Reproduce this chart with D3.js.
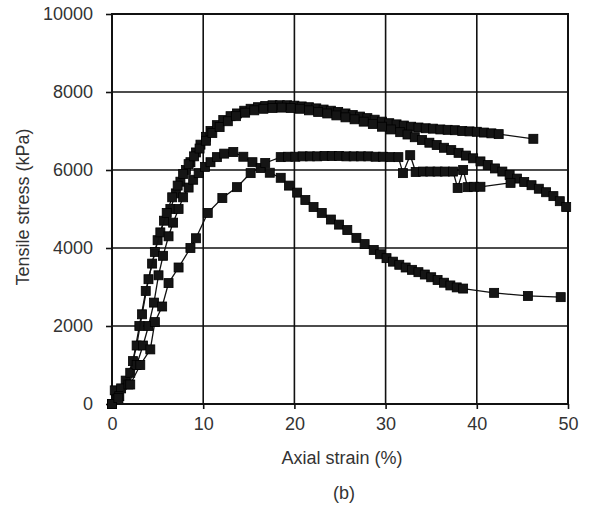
<!DOCTYPE html>
<html>
<head>
<meta charset="utf-8">
<script src="https://cdn.jsdelivr.net/npm/d3@7"></script>
<style>
  body { margin: 0; background: #fff; }
  text { font-family: "Liberation Sans", Arial, sans-serif; fill: #333; }
</style>
</head>
<body>
<div id="viz"></div>
<script>
// tick labels
const xTicks = [0, 10, 20, 30, 40, 50];
const yTicks = [0, 2000, 4000, 6000, 8000, 10000];

// series 1: upper curve, ends near 46 %
const s1Strain = [0, 0.5, 1.5, 2.3, 3, 3.7, 4.4, 5, 5.7, 6.4, 7, 7.5, 8.1, 8.6, 9.2, 9.7, 10.3, 10.8, 11.5, 12.2, 13, 13.7, 14.5, 15.2, 16, 16.8, 17.6, 18.4, 19.2, 20, 20.8, 21.6, 22.4, 23.2, 24, 24.8, 25.6, 26.4, 27.2, 28, 28.8, 29.6, 30.4, 31.2, 32, 32.8, 33.6, 34.4, 35.2, 36, 36.8, 37.6, 38.4, 39.2, 40, 40.8, 41.6, 42.4, 46.2];
const s1Stress = [0, 250, 600, 1100, 2000, 2900, 3600, 4200, 4700, 5000, 5400, 5700, 6000, 6200, 6450, 6650, 6850, 7000, 7150, 7280, 7380, 7450, 7520, 7570, 7610, 7640, 7660, 7660, 7660, 7650, 7630, 7610, 7580, 7550, 7520, 7490, 7450, 7410, 7370, 7330, 7290, 7240, 7200, 7170, 7140, 7110, 7090, 7070, 7060, 7040, 7030, 7020, 7000, 6990, 6980, 6960, 6940, 6920, 6800];

// series 2: upper curve, falls to ~5000 at 50 %
const s2Strain = [0, 0.3, 1, 2, 2.7, 3.3, 4, 4.7, 5.3, 6, 6.6, 7.2, 7.8, 8.4, 9, 9.6, 10.3, 11, 11.8, 12.7, 13.6, 14.6, 15.6, 16.6, 17.6, 18.6, 19.6, 20.6, 21.6, 22.6, 23.6, 24.6, 25.6, 26.6, 27.6, 28.6, 29.6, 30.6, 31.6, 32.4, 33.2, 34, 34.8, 35.6, 36.4, 37.2, 38, 38.8, 39.6, 40.4, 41.2, 42, 42.8, 43.6, 44.4, 45.2, 46, 46.8, 47.6, 48.4, 49.1, 49.8];
const s2Stress = [0, 350, 400, 800, 1500, 2300, 3200, 3900, 4400, 4900, 5300, 5600, 5900, 6150, 6350, 6550, 6750, 6950, 7100, 7250, 7380, 7470, 7530, 7570, 7590, 7600, 7590, 7570, 7530, 7490, 7450, 7400, 7350, 7300, 7240, 7180, 7110, 7040, 6970, 6910, 6840, 6770, 6700, 6640, 6570, 6510, 6440, 6370, 6300, 6220, 6130, 6040, 5960, 5870, 5780, 5690, 5610, 5520, 5430, 5330, 5200, 5050];

// series 3: peak ~6450 at 13 %, then softening
const s3Strain = [0, 0.8, 1.8, 2.7, 3.4, 4, 4.6, 5.1, 5.6, 6.2, 6.7, 7.3, 7.8, 8.4, 8.9, 9.5, 10.2, 10.8, 11.5, 12.3, 13.3, 14.4, 15.4, 16.3, 17.3, 18.5, 19.4, 20.3, 21.2, 22.1, 23, 24, 24.9, 25.8, 26.8, 27.7, 28.7, 29.4, 30.1, 30.8, 31.5, 32.2, 32.9, 33.6, 34.3, 35, 35.7, 36.4, 37.1, 37.8, 38.5, 41.9, 45.6, 49.2];
const s3Stress = [0, 200, 500, 1000, 1500, 2000, 2600, 3300, 3800, 4300, 4650, 5000, 5300, 5550, 5750, 5920, 6080, 6200, 6330, 6420, 6460, 6340, 6200, 6050, 5930, 5800, 5600, 5420, 5230, 5050, 4900, 4730, 4600, 4460, 4260, 4100, 3950, 3840, 3740, 3650, 3570, 3500, 3440, 3380, 3320, 3250, 3180, 3110, 3040, 2990, 2960, 2850, 2770, 2740];

// series 4: slow rise, plateau ~6350, then stepping down
const s4Strain = [0, 0.7, 2, 3.1, 4.2, 4.7, 5.5, 6.2, 7.3, 8.6, 9.2, 10.5, 12.1, 13.7, 15.2, 16.8, 18.5, 19.3, 20.1, 20.9, 21.7, 22.5, 23.3, 24.1, 24.9, 25.7, 26.5, 27.3, 28.1, 28.9, 29.7, 30.5, 31.4, 31.9, 32.7, 33.3, 34.1, 34.9, 35.7, 36.5, 37.4, 37.9, 38.5, 39, 39.7, 40.4, 43.7];
const s4Stress = [0, 150, 500, 1000, 1400, 2100, 2500, 3100, 3500, 4000, 4250, 4900, 5280, 5560, 5920, 6180, 6330, 6340, 6340, 6350, 6350, 6350, 6360, 6360, 6360, 6350, 6350, 6350, 6350, 6340, 6340, 6330, 6330, 5920, 6380, 5950, 5960, 5960, 5960, 5960, 5960, 5540, 6000, 5560, 5570, 5570, 5670];

const series = [
  { x: s1Strain, y: s1Stress },
  { x: s2Strain, y: s2Stress },
  { x: s3Strain, y: s3Stress },
  { x: s4Strain, y: s4Stress }
];

const fullWidth = 589;
const fullHeight = 508;

const svg = d3.select("#viz").append("svg")
  .attr("width", fullWidth)
  .attr("height", fullHeight)
  .style("background", "#fff");

const xScale = d3.scaleLinear().domain([0, 50]).range([112, 568]);
const yScale = d3.scaleLinear().domain([0, 10000]).range([404, 14]);

// grid
svg.append("g")
  .selectAll("line")
  .data(xTicks.slice(1, -1))
  .enter().append("line")
    .attr("x1", d => xScale(d)).attr("x2", d => xScale(d))
    .attr("y1", yScale(10000)).attr("y2", yScale(0))
    .attr("stroke", "#111").attr("stroke-width", 1.6);

svg.append("g")
  .selectAll("line")
  .data(yTicks.slice(1, -1))
  .enter().append("line")
    .attr("x1", xScale(0)).attr("x2", xScale(50))
    .attr("y1", d => yScale(d)).attr("y2", d => yScale(d))
    .attr("stroke", "#111").attr("stroke-width", 1.6);

// axes
const xAxis = d3.axisBottom(xScale).tickValues(xTicks).tickSize(5).tickPadding(8).tickFormat(d3.format("d"));
const yAxis = d3.axisLeft(yScale).tickValues(yTicks).tickSize(6).tickPadding(13).tickFormat(d3.format("d"));

const gx = svg.append("g")
  .attr("transform", "translate(0," + yScale(0) + ")")
  .call(xAxis);
const gy = svg.append("g")
  .attr("transform", "translate(" + xScale(0) + ",0)")
  .call(yAxis);

[gx, gy].forEach(g => {
  g.select(".domain").remove();
  g.selectAll(".tick line").attr("stroke", "#111").attr("stroke-width", 1.6);
  g.selectAll(".tick text")
    .style("font-size", "18px")
    .style("font-family", "'Liberation Sans', Arial, sans-serif")
    .attr("fill", "#333");
});

// frame
svg.append("rect")
  .attr("x", xScale(0)).attr("y", yScale(10000))
  .attr("width", xScale(50) - xScale(0))
  .attr("height", yScale(0) - yScale(10000))
  .attr("fill", "none")
  .attr("stroke", "#111")
  .attr("stroke-width", 2);

// series lines and square markers
const line = d3.line()
  .x(d => xScale(d[0]))
  .y(d => yScale(d[1]));

series.forEach(s => {
  const pts = s.x.map((v, i) => [v, s.y[i]]);
  svg.append("path")
    .datum(pts)
    .attr("fill", "none")
    .attr("stroke", "#111")
    .attr("stroke-width", 1.3)
    .attr("d", line);

  svg.append("g")
    .selectAll("rect")
    .data(pts)
    .enter().append("rect")
      .attr("x", d => xScale(d[0]) - 4.5)
      .attr("y", d => yScale(d[1]) - 4.5)
      .attr("width", 9)
      .attr("height", 9)
      .attr("fill", "#151515")
      .attr("stroke", "#000")
      .attr("stroke-width", 0.8);
});

// axis titles
svg.append("text")
  .attr("x", 342).attr("y", 464)
  .attr("text-anchor", "middle")
  .style("font-size", "18px")
  .text("Axial strain (%)");

svg.append("text")
  .attr("transform", "translate(29,207) rotate(-90)")
  .attr("text-anchor", "middle")
  .style("font-size", "18px")
  .text("Tensile stress (kPa)");

svg.append("text")
  .attr("x", 344).attr("y", 499)
  .attr("text-anchor", "middle")
  .style("font-size", "18px")
  .text("(b)");
</script>
</body>
</html>
